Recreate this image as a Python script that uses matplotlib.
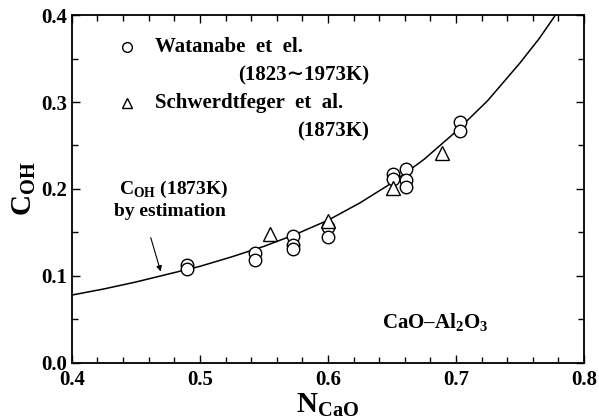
import matplotlib.pyplot as plt
from matplotlib.ticker import MultipleLocator

plt.rcParams['font.family'] = ['Liberation Serif', 'DejaVu Serif']
plt.rcParams['font.weight'] = 'bold'
plt.rcParams['axes.labelweight'] = 'bold'
plt.rcParams['mathtext.fontset'] = 'custom'
plt.rcParams['mathtext.rm'] = 'Liberation Serif:bold'
plt.rcParams['mathtext.bf'] = 'Liberation Serif:bold'

# Watanabe et al. (1823~1973K)
wat_x = [0.49, 0.49, 0.543, 0.543, 0.573, 0.573, 0.573, 0.60, 0.60,
         0.651, 0.651, 0.661, 0.661, 0.661, 0.703, 0.703]
wat_y = [0.112, 0.108, 0.126, 0.118, 0.146, 0.135, 0.131, 0.156, 0.145,
         0.217, 0.211, 0.223, 0.210, 0.202, 0.277, 0.267]

# Schwerdtfeger et al. (1873K)
sch_x = [0.555, 0.600, 0.651, 0.689]
sch_y = [0.148, 0.163, 0.201, 0.241]

# estimated curve
est_x = [0.40, 0.425, 0.45, 0.475, 0.50, 0.525, 0.55, 0.575, 0.60,
         0.625, 0.65, 0.675, 0.70, 0.725, 0.75, 0.765, 0.78]
est_y = [0.078, 0.085, 0.093, 0.102, 0.111, 0.122, 0.134, 0.148, 0.164,
         0.184, 0.207, 0.234, 0.266, 0.302, 0.345, 0.373, 0.405]

fig = plt.figure(figsize=(5.99, 4.19), dpi=100)
ax = fig.add_axes([0.120, 0.134, 0.855, 0.830])

ax.plot(est_x, est_y, color='black', lw=1.1)
ax.plot(wat_x, wat_y, 'o', mfc='white', mec='black', ms=9, mew=1.0)
ax.plot(sch_x, sch_y, '^', mfc='white', mec='black', ms=10, mew=1.0)

ax.set_xlim(0.4, 0.8)
ax.set_ylim(0.0, 0.4)
ax.xaxis.set_major_locator(MultipleLocator(0.1))
ax.xaxis.set_minor_locator(MultipleLocator(0.02))
ax.yaxis.set_major_locator(MultipleLocator(0.1))
ax.yaxis.set_minor_locator(MultipleLocator(0.05))
ax.tick_params(which='both', direction='in', top=True, right=True, labelsize=15, width=1.0)
ax.tick_params(which='major', length=6)
ax.tick_params(which='minor', length=4)
ax.tick_params(axis='x', pad=5)
ax.set_xticklabels(['%.1f' % v for v in ax.get_xticks()])
ax.set_yticklabels(['%.1f' % v for v in ax.get_yticks()])
for s in ax.spines.values():
    s.set_linewidth(1.3)

ax.set_xlabel(r'N$_\mathbf{CaO}$', fontsize=21, labelpad=1)
ax.set_ylabel(r'C$_\mathbf{OH}$', fontsize=21, labelpad=2)

# legend drawn by hand
ax.plot([0.443], [0.363], 'o', mfc='white', mec='black', ms=7, mew=1.0)
ax.text(0.465, 0.363, 'Watanabe  et  el.', fontsize=15, va='center')
ax.text(0.632, 0.331, '(1823∼1973K)', fontsize=15, va='center', ha='right',
        family=['Liberation Serif', 'DejaVu Serif'])
ax.plot([0.443], [0.299], '^', mfc='white', mec='black', ms=7, mew=1.0)
ax.text(0.465, 0.299, 'Schwerdtfeger  et  al.', fontsize=15, va='center')
ax.text(0.632, 0.266, '(1873K)', fontsize=15, va='center', ha='right')

ax.text(0.437, 0.200, r'C$_\mathbf{OH}$ (1873K)', fontsize=14, va='center')
ax.text(0.433, 0.174, 'by estimation', fontsize=14, va='center')
ax.annotate('', xy=(0.470, 0.102), xytext=(0.461, 0.147),
            arrowprops=dict(arrowstyle='-|>', color='black', lw=0.8, mutation_scale=8))

ax.text(0.684, 0.046, r'CaO–Al$_\mathbf{2}$O$_\mathbf{3}$', fontsize=15,
        ha='center', va='center')

fig.savefig('out.png', dpi=100)
